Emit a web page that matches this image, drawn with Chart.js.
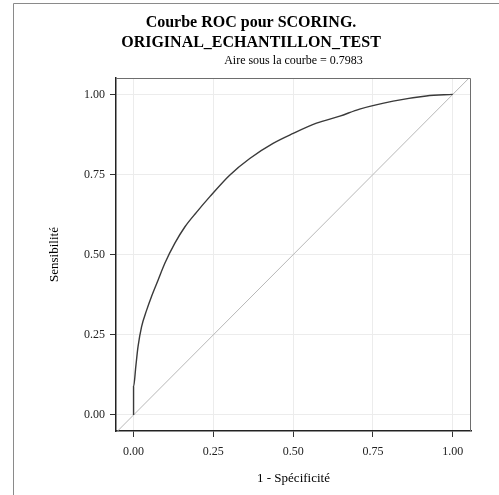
<!DOCTYPE html>
<html>
<head>
<meta charset="utf-8">
<script src="https://cdn.jsdelivr.net/npm/chart.js@4"></script>
<style>
  html, body { margin: 0; padding: 0; background: #fff; }
  canvas { display: block; }
</style>
</head>
<body>
<canvas id="roc" width="499" height="495"></canvas>
<script>
// ROC curve points
const fpr = [0, 0, 0.007, 0.014, 0.025, 0.041, 0.056, 0.077, 0.098, 0.129, 0.161, 0.197, 0.239, 0.301, 0.364, 0.437, 0.5, 0.573, 0.646, 0.708, 0.813, 0.917, 1.0];
const tpr = [0, 0.088, 0.151, 0.213, 0.275, 0.327, 0.369, 0.421, 0.473, 0.535, 0.587, 0.632, 0.681, 0.748, 0.800, 0.847, 0.878, 0.910, 0.932, 0.954, 0.979, 0.995, 1.0];
const diagonal = [-0.1, 1.1];
const tickValues = [0, 0.25, 0.5, 0.75, 1];
const titleLines = ['Courbe ROC pour SCORING.', 'ORIGINAL_ECHANTILLON_TEST'];
const subtitleText = 'Aire sous la courbe = 0.7983';

const serif = "'Liberation Serif', 'DejaVu Serif', serif";

// frame lines + top/right border of the plot
const frames = {
    id: 'frames',
    beforeDraw(chart) {
        const ctx = chart.ctx;
        ctx.save();
        ctx.fillStyle = '#fff';
        ctx.fillRect(0, 0, chart.width, chart.height);
        ctx.strokeStyle = '#8a8a8a';
        ctx.lineWidth = 1;
        ctx.beginPath();
        ctx.moveTo(13.5, chart.height);
        ctx.lineTo(13.5, 3.5);
        ctx.lineTo(chart.width, 3.5);
        ctx.stroke();
        ctx.restore();
    },
    afterDraw(chart) {
        const a = chart.chartArea;
        const ctx = chart.ctx;
        ctx.save();
        ctx.strokeStyle = '#6e6e6e';
        ctx.lineWidth = 1;
        ctx.beginPath();
        ctx.moveTo(a.left, a.top + 0.5);
        ctx.lineTo(a.right - 0.5, a.top + 0.5);
        ctx.lineTo(a.right - 0.5, a.bottom);
        ctx.stroke();
        ctx.restore();
    }
};

const setTicks = scale => {
    scale.ticks = tickValues.map(v => ({ value: v }));
};

new Chart(document.getElementById('roc'), {
    type: 'scatter',
    data: {
        datasets: [
            {
                data: fpr.map((x, i) => ({ x: x, y: tpr[i] })),
                showLine: true,
                borderColor: '#3a3a3a',
                borderWidth: 1.4,
                pointRadius: 0,
                cubicInterpolationMode: 'monotone'
            },
            {
                data: diagonal.map(v => ({ x: v, y: v })),
                showLine: true,
                borderColor: '#b8b8b8',
                borderWidth: 1,
                pointRadius: 0
            }
        ]
    },
    options: {
        responsive: false,
        animation: false,
        layout: { padding: { left: 31, right: 28, top: 0, bottom: 0 } },
        plugins: {
            legend: { display: false },
            tooltip: { enabled: false },
            title: {
                display: true,
                text: titleLines,
                color: '#000',
                font: { family: serif, size: 16, weight: 'bold', lineHeight: 1.3 },
                padding: { top: 12, bottom: 0 }
            },
            subtitle: {
                display: true,
                fullSize: false,
                text: subtitleText,
                color: '#000',
                font: { family: serif, size: 12, lineHeight: 1.2 },
                padding: { top: 0, bottom: 10 }
            }
        },
        scales: {
            x: {
                type: 'linear',
                min: -0.055,
                max: 1.057,
                afterBuildTicks: setTicks,
                afterFit: s => { s.height = 64; },
                border: { color: '#222', width: 1.5 },
                grid: { color: '#ececec', tickColor: '#333', tickLength: 6 },
                ticks: {
                    color: '#222',
                    padding: 8,
                    font: { family: serif, size: 12 },
                    callback: v => v.toFixed(2)
                },
                title: {
                    display: true,
                    text: '1 - Spécificité',
                    color: '#000',
                    font: { family: serif, size: 13, lineHeight: 1.2 },
                    padding: { top: 4, bottom: 9 }
                }
            },
            y: {
                type: 'linear',
                min: -0.05,
                max: 1.051,
                afterBuildTicks: setTicks,
                afterFit: s => { s.width = 85; },
                border: { color: '#222', width: 1.5 },
                grid: { color: '#ececec', tickColor: '#333', tickLength: 6 },
                ticks: {
                    color: '#222',
                    padding: 5,
                    font: { family: serif, size: 12 },
                    callback: v => v.toFixed(2)
                },
                title: {
                    display: true,
                    text: 'Sensibilité',
                    color: '#000',
                    font: { family: serif, size: 13, lineHeight: 1.2 },
                    padding: { top: 16, bottom: 4 }
                }
            }
        }
    },
    plugins: [frames]
});
</script>
</body>
</html>
